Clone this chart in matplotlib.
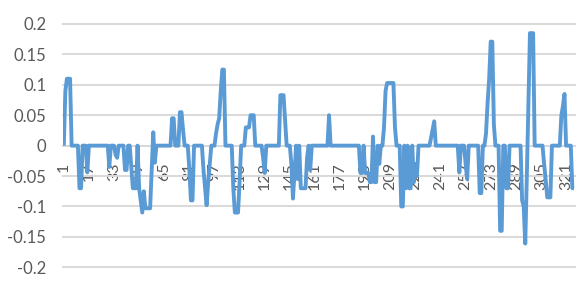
import matplotlib
matplotlib.use("Agg")
import matplotlib.pyplot as plt
import numpy as np

plt.rcParams['font.family'] = ['Lato', 'DejaVu Sans']

# series values (categories 1..326)
values = [
    0, 0.09, 0.11, 0.11, 0.11, 0, 0, 0, 0, 0,
    -0.07, -0.07, 0, 0, 0, -0.044, 0, 0, 0, 0,
    0, 0, 0, 0, 0, 0, 0, 0, 0, -0.035,
    0, 0, 0, -0.015, -0.02, 0, 0, 0, 0, -0.04,
    -0.04, 0, 0, -0.035, -0.07, -0.07, -0.07, 0, -0.07, -0.09,
    -0.11, -0.075, -0.103, -0.103, -0.103, -0.103, -0.04, 0.022, -0.028, 0,
    0, 0, 0, 0, 0, 0, 0, 0, 0, 0.045,
    0.045, 0, 0, 0, 0.055, 0.055, 0.025, 0, 0, 0,
    -0.04, -0.09, -0.09, 0, 0, 0, 0, 0, 0, -0.04,
    -0.07, -0.098, -0.06, -0.03, 0, 0, 0, 0.02, 0.035, 0.045,
    0.09, 0.125, 0.125, 0, 0, 0, 0, 0, -0.07, -0.11,
    -0.11, -0.11, -0.06, 0, 0, 0, 0.03, 0.03, 0.03, 0.05,
    0.05, 0.05, 0, 0, 0, 0, 0, -0.02, -0.045, 0,
    0, 0, 0, 0, 0, 0, 0, 0, 0.083, 0.083,
    0.083, 0.04, 0, 0, 0, -0.03, -0.087, -0.045, 0, -0.055,
    0, -0.07, -0.07, -0.07, -0.07, -0.02, 0, -0.04, 0, 0,
    0, 0, 0, 0, 0, 0, 0, 0, 0, 0.05,
    0, 0, 0, 0, 0, 0, 0, 0, 0, 0,
    0, 0, 0, 0, 0, 0, 0, 0, 0, -0.045,
    -0.045, 0, -0.045, -0.045, -0.045, -0.06, -0.06, 0.015, -0.06, -0.06,
    0, -0.03, 0, 0, 0.03, 0.09, 0.103, 0.103, 0.103, 0.103,
    0.103, 0.03, 0, 0, 0, -0.1, -0.1, 0, -0.07, 0,
    -0.07, -0.07, 0, -0.06, -0.03, -0.05, 0, 0, 0, 0,
    0, 0, 0, 0, 0.013, 0.027, 0.04, 0, 0, 0,
    0, 0, 0, 0, 0, 0, 0, 0, 0, 0,
    0, 0, -0.044, 0, 0, 0, -0.03, -0.055, 0, 0,
    0, 0, 0, 0, 0, -0.078, -0.078, 0, 0, 0.02,
    0.07, 0.11, 0.171, 0.171, 0.035, 0, 0, 0, -0.14, -0.14,
    0, 0, -0.07, -0.07, 0, 0, 0, 0, 0, 0,
    0, 0, -0.09, -0.1, -0.161, -0.05, 0.07, 0.185, 0.185, 0.185,
    0, 0, 0, 0, 0, 0, -0.03, -0.055, -0.085, -0.085,
    -0.085, 0, 0, 0, 0, 0, 0, 0.05, 0.065, 0.085,
    0, 0, 0, 0, -0.07, -0.07,
]
categories = list(range(1, len(values) + 1))
x_tick_labels = [str(c) for c in categories if (c - 1) % 16 == 0]
y_ticks = [-0.2, -0.15, -0.1, -0.05, 0, 0.05, 0.1, 0.15, 0.2]
y_tick_labels = ['-0.2', '-0.15', '-0.1', '-0.05', '0', '0.05', '0.1', '0.15', '0.2']

fig = plt.figure(figsize=(5.88, 2.83), dpi=100)
ax = fig.add_axes([63 / 588, 1 - 267.3 / 283, (574.7 - 63) / 588, (267.3 - 24) / 283])

# horizontal gridlines at the y ticks
for yv in y_ticks:
    ax.axhline(yv, color='#D9D9D9', linewidth=1.4, zorder=0.8, clip_on=False)

ax.plot(categories, values, color='#5B9BD5', linewidth=2.8, solid_joinstyle='round',
        solid_capstyle='butt', zorder=3)

ax.set_xlim(0.5, len(values) + 0.5)
ax.set_ylim(-0.2, 0.2)
ax.set_yticks(y_ticks)
ax.set_yticklabels(y_tick_labels)
ax.set_xticks([int(s) for s in x_tick_labels])
ax.set_xticklabels(x_tick_labels)

for s in ['top', 'right', 'left']:
    ax.spines[s].set_visible(False)
ax.spines['bottom'].set_position(('data', 0))
ax.spines['bottom'].set_color('#D9D9D9')
ax.spines['bottom'].set_linewidth(1.4)
ax.spines['bottom'].set_zorder(0.8)

ax.tick_params(axis='y', length=0, pad=12, labelsize=12, labelcolor='#595959')
ax.tick_params(axis='x', length=0, pad=12, labelsize=11.5, labelcolor='#595959',
               labelrotation=90)
for lab in ax.get_xticklabels():
    lab.set_verticalalignment('top')
    lab.set_horizontalalignment('center')

ax.set_axisbelow(True)
ax.grid(False)

fig.savefig('out.png', dpi=100, facecolor='white')
